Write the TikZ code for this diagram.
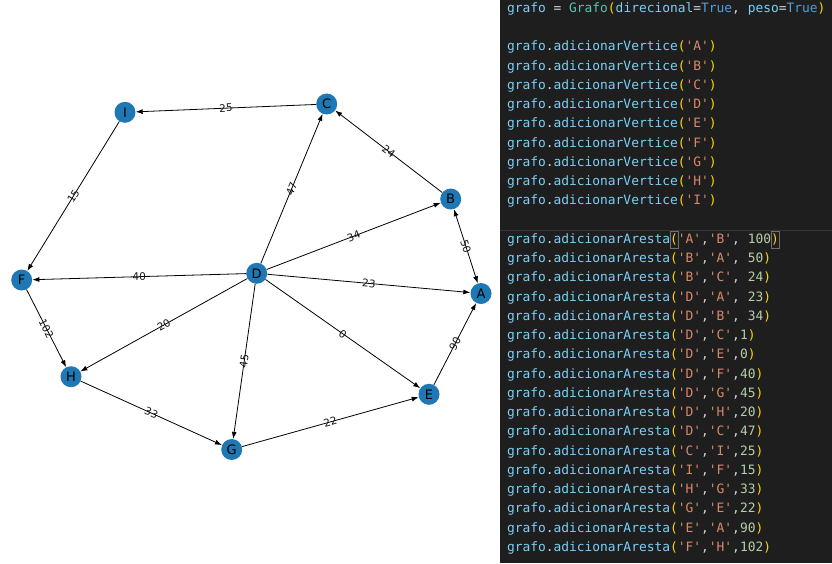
\documentclass[tikz,border=0pt]{standalone}
\usepackage{fontspec}
\setmainfont{DejaVu Sans}
\setmonofont{DejaVu Sans Mono}
\usetikzlibrary{arrows.meta,positioning}

\definecolor{nxblue}{HTML}{1F78B4}
\definecolor{codebg}{HTML}{1E1E1E}
\definecolor{codeline}{HTML}{363636}
\definecolor{codebox}{HTML}{707070}
\definecolor{codevar}{HTML}{7CCFF6}
\definecolor{codecls}{HTML}{4EC9B0}
\definecolor{codekw}{HTML}{569CD6}
\definecolor{codestr}{HTML}{D9896A}
\definecolor{codenum}{HTML}{B5CEA8}
\definecolor{codepar}{HTML}{FFD700}
\definecolor{codetxt}{HTML}{D4D4D4}

\newcommand{\cv}[1]{\textcolor{codevar}{#1}}
\newcommand{\cc}[1]{\textcolor{codecls}{#1}}
\newcommand{\ck}[1]{\textcolor{codekw}{#1}}
\newcommand{\cs}[1]{\textcolor{codestr}{#1}}
\newcommand{\cn}[1]{\textcolor{codenum}{#1}}
\newcommand{\cp}[1]{\textcolor{codepar}{#1}}
\newcommand{\ct}[1]{\textcolor{codetxt}{#1}}

\tikzset{
  vert/.style={circle,fill=nxblue,minimum size=21pt,inner sep=0pt,font=\fontsize{13}{15}\selectfont},
  arc/.style={-{Latex[length=7pt,width=5pt]},line width=0.8pt},
  arcboth/.style={{Latex[length=7pt,width=5pt]}-{Latex[length=7pt,width=5pt]},line width=0.8pt},
  wlabel/.style={midway,sloped,inner sep=0.5pt,font=\fontsize{10.5}{12}\selectfont,text=black!90},
  codeln/.style={anchor=west,inner sep=0pt,outer sep=0pt,text height=9.6pt,text depth=3.2pt,font=\ttfamily\fontsize{12.9}{15}\selectfont},
  codebrk/.style={codeln,draw=codebox,line width=0.6pt,minimum height=17pt}
}

\begin{document}
\begin{tikzpicture}[x=1pt,y=-1pt]
\useasboundingbox (0,0) rectangle (832,563);

% code panel
\fill[codebg] (500,0) rectangle (832,563);
\draw[codeline,line width=1pt] (500,230.6) -- (832,230.6);

\node[codeln] (ln1) at (507,9.2) {\cv{grafo}\ct{\ =\ }\cc{Grafo}\cp{(}\cv{direcional}\ct{=}\ck{True}\ct{,\ }\cv{peso}\ct{=}\ck{True}\cp{)}};

\foreach \v [count=\i] in {A,B,C,D,E,F,G,H,I}
  \node[codeln] (vtx\i) at (507,{47.7+19.25*(\i-1)}) {\cv{grafo}\ct{.}\cv{adicionarVertice}\cp{(}\cs{'\v'}\cp{)}};

% current line with bracket match
\node[codeln] (ar0) at (507,240.2) {\cv{grafo}\ct{.}\cv{adicionarAresta}};
\node[codebrk,right=0pt of ar0] (ar0a) {\cp{(}};
\node[codeln,right=0pt of ar0a] (ar0b) {\cs{'A'}\ct{,}\cs{'B'}\ct{,\ }\cn{100}};
\node[codebrk,right=0pt of ar0b] (ar0c) {\cp{)}};

\foreach \u/\v/\w [count=\i] in {B/A/50,B/C/24,D/A/23,D/B/34}
  \node[codeln] (ar\i) at (507,{240.2+19.25*\i}) {\cv{grafo}\ct{.}\cv{adicionarAresta}\cp{(}\cs{'\u'}\ct{,}\cs{'\v'}\ct{,\ }\cn{\w}\cp{)}};

\foreach \u/\v/\w [count=\i from 5] in {D/C/1,D/E/0,D/F/40,D/G/45,D/H/20,D/C/47,C/I/25,I/F/15,H/G/33,G/E/22,E/A/90,F/H/102}
  \node[codeln] (ar\i) at (507,{240.2+19.25*\i}) {\cv{grafo}\ct{.}\cv{adicionarAresta}\cp{(}\cs{'\u'}\ct{,}\cs{'\v'}\ct{,}\cn{\w}\cp{)}};

% graph
\node[vert] (I) at (125,112.3) {I};
\node[vert] (C) at (326.7,104) {C};
\node[vert] (B) at (450.7,199) {B};
\node[vert] (A) at (481,293.5) {A};
\node[vert] (E) at (429,394.3) {E};
\node[vert] (G) at (231.7,449.5) {G};
\node[vert] (H) at (71,376.7) {H};
\node[vert] (F) at (21.7,280) {F};
\node[vert] (D) at (256.7,273.3) {D};

\draw[arcboth] (A) -- node[wlabel] {50} (B);
\draw[arc] (B) -- node[wlabel] {24} (C);
\draw[arc] (D) -- node[wlabel] {23} (A);
\draw[arc] (D) -- node[wlabel] {34} (B);
\draw[arc] (D) -- node[wlabel] {47} (C);
\draw[arc] (D) -- node[wlabel] {0} (E);
\draw[arc] (D) -- node[wlabel] {40} (F);
\draw[arc] (D) -- node[wlabel] {45} (G);
\draw[arc] (D) -- node[wlabel] {20} (H);
\draw[arc] (C) -- node[wlabel] {25} (I);
\draw[arc] (I) -- node[wlabel] {15} (F);
\draw[arc] (H) -- node[wlabel] {33} (G);
\draw[arc] (G) -- node[wlabel] {22} (E);
\draw[arc] (E) -- node[wlabel] {90} (A);
\draw[arc] (F) -- node[wlabel] {102} (H);
\end{tikzpicture}
\end{document}
